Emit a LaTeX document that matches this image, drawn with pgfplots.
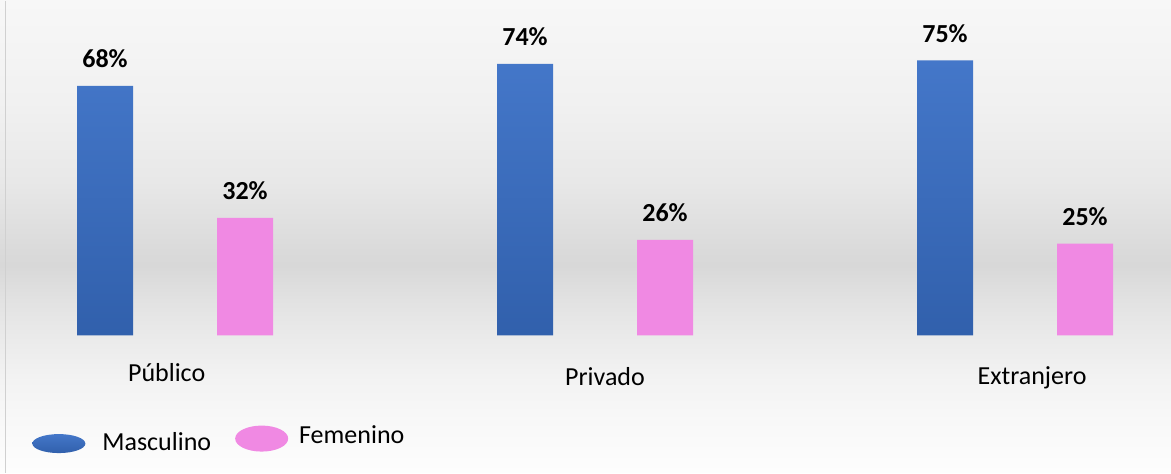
\documentclass[border=0pt]{standalone}
\usepackage{pgfplots}
\pgfplotsset{compat=1.18}
\usepackage{fontspec}
\setmainfont{Carlito}

\definecolor{blueTop}{HTML}{4477C9}
\definecolor{blueBot}{HTML}{3160AC}
\definecolor{rosa}{HTML}{F089E3}
\definecolor{marco}{HTML}{D0D0D0}

\begin{document}
\begin{tikzpicture}
\fontsize{13}{15}\selectfont

% fondo degradado
\shade[bottom color={rgb,255:red,253;green,253;blue,253}, top color={rgb,255:red,248;green,248;blue,248}] (0,0) rectangle (585.5pt,26pt);
\shade[bottom color={rgb,255:red,248;green,248;blue,248}, top color={rgb,255:red,243;green,243;blue,243}] (0,26pt) rectangle (585.5pt,46pt);
\shade[bottom color={rgb,255:red,243;green,243;blue,243}, top color={rgb,255:red,234;green,234;blue,234}] (0,46pt) rectangle (585.5pt,68.5pt);
\shade[bottom color={rgb,255:red,234;green,234;blue,234}, top color={rgb,255:red,226;green,226;blue,226}] (0,68.5pt) rectangle (585.5pt,86pt);
\shade[bottom color={rgb,255:red,226;green,226;blue,226}, top color={rgb,255:red,216;green,216;blue,216}] (0,86pt) rectangle (585.5pt,103.5pt);
\shade[bottom color={rgb,255:red,216;green,216;blue,216}, top color={rgb,255:red,218;green,218;blue,218}] (0,103.5pt) rectangle (585.5pt,111pt);
\shade[bottom color={rgb,255:red,218;green,218;blue,218}, top color={rgb,255:red,232;green,232;blue,232}] (0,111pt) rectangle (585.5pt,146pt);
\shade[bottom color={rgb,255:red,232;green,232;blue,232}, top color={rgb,255:red,241;green,241;blue,241}] (0,146pt) rectangle (585.5pt,186pt);
\shade[bottom color={rgb,255:red,241;green,241;blue,241}, top color={rgb,255:red,247;green,247;blue,247}] (0,186pt) rectangle (585.5pt,236pt);
\draw[marco, line width=0.6pt] (2.75pt,0) -- (2.75pt,236pt);

\begin{axis}[
    at={(0pt,68.65pt)}, anchor=south west,
    scale only axis, width=585.5pt, height=167.35pt,
    xmin=-0.41667, xmax=2.37143, ymin=0, ymax=91.27,
    ybar, bar width=0.13333,
    axis line style={draw=none},
    major tick length=0pt,
    ytick=\empty,
    xtick={-0.0198,1.0238,2.0405},
    xticklabels={P\'ublico, \raisebox{-2pt}{Privado}, \raisebox{-1.5pt}{Extranjero}},
    xticklabel style={anchor=base, yshift=-23pt, font=\fontsize{13}{15}\selectfont},
    nodes near coords={\pgfmathprintnumber{\pgfplotspointmeta}\%},
    nodes near coords style={anchor=base, yshift=9pt, font=\fontsize{13}{15}\selectfont\bfseries, /pgf/number format/assume math mode=true},
    legend columns=2,
    legend style={at={(axis description cs:0.0273,-0.3235)}, anchor=west,
        draw=none, fill=none, inner sep=0pt,
        font=\fontsize{13}{15}\selectfont,
        /tikz/every even column/.append style={column sep=10pt}},
]

\addplot[draw=none, top color=blueTop, bottom color=blueBot, bar shift=-0.16667,
    legend image code/.code={\shade[top color=blueTop, bottom color=blueBot] (13.25pt,0pt) ellipse [x radius=13.25pt, y radius=4.75pt]; \path (33pt,0pt);}]
    coordinates {(0,68) (1,74) (2,75)};
\addlegendentry{Masculino}

\addplot[draw=none, fill=rosa, bar shift=0.16667,
    legend image code/.code={\fill[rosa] (13.25pt,2.5pt) ellipse [x radius=13.25pt, y radius=6.5pt]; \path (30pt,0pt);}]
    coordinates {(0,32) (1,26) (2,25)};
\addlegendentry{\raisebox{7pt}{Femenino}}

\end{axis}
\end{tikzpicture}
\end{document}
